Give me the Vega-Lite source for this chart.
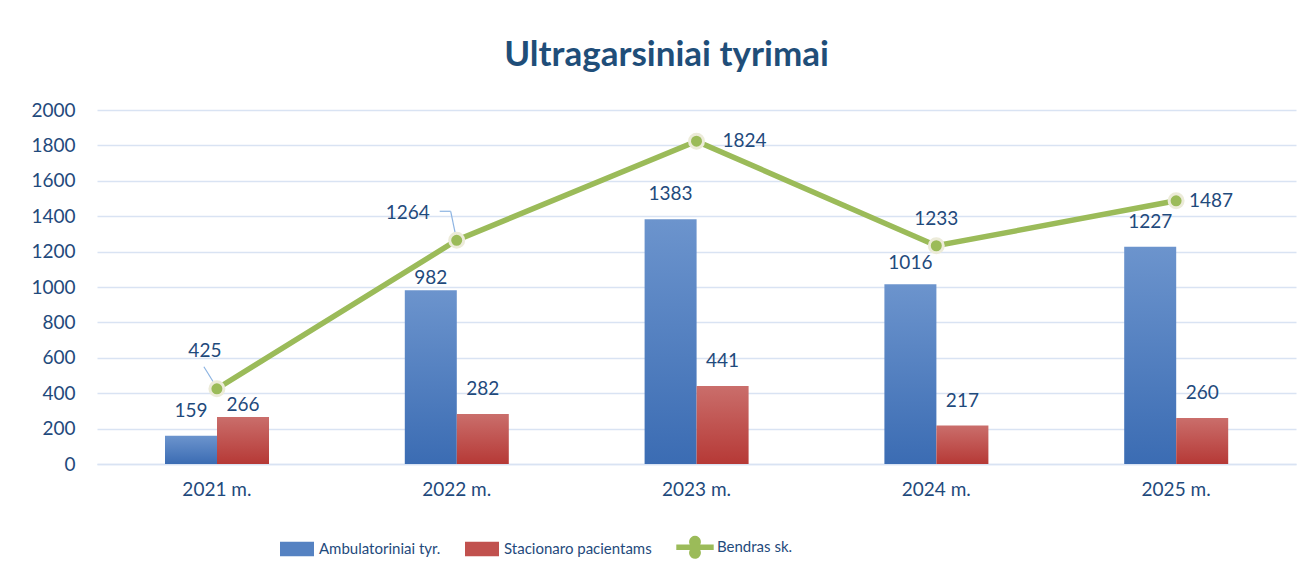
{
  "$schema": "https://vega.github.io/schema/vega-lite/v6.json",
  "width": 1199,
  "height": 354,
  "autosize": {"type": "none"},
  "padding": {"left": 97, "top": 110, "right": 20, "bottom": 115},
  "background": "white",
  "title": {
    "text": "Ultragarsiniai tyrimai",
    "font": "Lato",
    "fontSize": 35,
    "fontWeight": "bold",
    "color": "#1F4E79",
    "anchor": "middle",
    "frame": "group",
    "dx": -30,
    "offset": 28
  },
  "config": {
    "view": {"stroke": null},
    "font": "Lato"
  },
  "data": {
    "values": [
      {"year": "2021 m.", "series": "Ambulatoriniai tyr.", "value": 159},
      {"year": "2021 m.", "series": "Stacionaro pacientams", "value": 266},
      {"year": "2021 m.", "series": "Bendras sk.", "value": 425},
      {"year": "2022 m.", "series": "Ambulatoriniai tyr.", "value": 982},
      {"year": "2022 m.", "series": "Stacionaro pacientams", "value": 282},
      {"year": "2022 m.", "series": "Bendras sk.", "value": 1264},
      {"year": "2023 m.", "series": "Ambulatoriniai tyr.", "value": 1383},
      {"year": "2023 m.", "series": "Stacionaro pacientams", "value": 441},
      {"year": "2023 m.", "series": "Bendras sk.", "value": 1824},
      {"year": "2024 m.", "series": "Ambulatoriniai tyr.", "value": 1016},
      {"year": "2024 m.", "series": "Stacionaro pacientams", "value": 217},
      {"year": "2024 m.", "series": "Bendras sk.", "value": 1233},
      {"year": "2025 m.", "series": "Ambulatoriniai tyr.", "value": 1227},
      {"year": "2025 m.", "series": "Stacionaro pacientams", "value": 260},
      {"year": "2025 m.", "series": "Bendras sk.", "value": 1487}
    ]
  },
  "encoding": {
    "x": {
      "field": "year",
      "type": "nominal",
      "sort": null,
      "scale": {"paddingInner": 0, "paddingOuter": 0},
      "axis": {
        "title": null,
        "labelAngle": 0,
        "ticks": false,
        "domain": true,
        "domainColor": "#D9E3F3",
        "domainWidth": 1.5,
        "labelPadding": 16,
        "labelFont": "Lato",
        "labelFontSize": 19,
        "labelColor": "#1F4A7C",
        "grid": false
      }
    },
    "y": {
      "field": "value",
      "type": "quantitative",
      "scale": {"domain": [0, 2000], "nice": false},
      "axis": {
        "title": null,
        "format": "d",
        "values": [0, 200, 400, 600, 800, 1000, 1200, 1400, 1600, 1800, 2000],
        "grid": true,
        "gridColor": "#D9E3F3",
        "gridWidth": 1.5,
        "domain": false,
        "ticks": false,
        "labelPadding": 22,
        "labelFont": "Lato",
        "labelFontSize": 19,
        "labelColor": "#1F4A7C"
      }
    }
  },
  "layer": [
    {
      "transform": [{"filter": "datum.series !== 'Bendras sk.'"}],
      "mark": {"type": "bar"},
      "encoding": {
        "xOffset": {
          "field": "series",
          "type": "nominal",
          "sort": null,
          "scale": {"domain": ["Ambulatoriniai tyr.", "Stacionaro pacientams"], "paddingInner": 0, "paddingOuter": 0, "range": [68, 172]}
        },
        "color": {
          "condition": {
            "test": "datum.series === 'Ambulatoriniai tyr.'",
            "value": {"gradient": "linear", "x1": 0, "y1": 0, "x2": 0, "y2": 1, "stops": [{"offset": 0, "color": "#6C94CD"}, {"offset": 1, "color": "#3B6CB3"}]}
          },
          "value": {"gradient": "linear", "x1": 0, "y1": 0, "x2": 0, "y2": 1, "stops": [{"offset": 0, "color": "#CA6E6B"}, {"offset": 1, "color": "#B63936"}]}
        }
      }
    },
    {
      "transform": [{"filter": "datum.series !== 'Bendras sk.' && datum.value !== 266 && datum.value !== 982 && datum.value !== 1016"}],
      "mark": {"type": "text", "font": "Lato", "fontSize": 19, "color": "#1F4A7C", "dy": -25, "baseline": "middle"},
      "encoding": {
        "xOffset": {"field": "series", "type": "nominal", "sort": null},
        "text": {"field": "value", "type": "quantitative"}
      }
    },
    {
      "transform": [{"filter": "datum.series !== 'Bendras sk.' && (datum.value === 266 || datum.value === 982)"}],
      "mark": {"type": "text", "font": "Lato", "fontSize": 19, "color": "#1F4A7C", "dy": -12, "baseline": "middle"},
      "encoding": {
        "xOffset": {"field": "series", "type": "nominal", "sort": null},
        "text": {"field": "value", "type": "quantitative"}
      }
    },
    {
      "transform": [{"filter": "datum.series !== 'Bendras sk.' && datum.value === 1016"}],
      "mark": {"type": "text", "font": "Lato", "fontSize": 19, "color": "#1F4A7C", "dy": -21, "baseline": "middle"},
      "encoding": {
        "xOffset": {"field": "series", "type": "nominal", "sort": null},
        "text": {"field": "value", "type": "quantitative"}
      }
    },
    {
      "transform": [{"filter": "datum.series === 'Bendras sk.' && datum.year === '2021 m.'"}],
      "mark": {"type": "rule", "color": "#8DB4E2", "strokeWidth": 1.2, "xOffset": -13, "yOffset": -22, "x2Offset": 0, "y2Offset": -1},
      "encoding": {"x2": {"field": "year"}, "y2": {"field": "value"}}
    },
    {
      "transform": [{"filter": "datum.series === 'Bendras sk.' && datum.year === '2022 m.'"}],
      "mark": {"type": "rule", "color": "#8DB4E2", "strokeWidth": 1.2, "xOffset": -6, "yOffset": -29, "x2Offset": 0, "y2Offset": 0},
      "encoding": {"x2": {"field": "year"}, "y2": {"field": "value"}}
    },
    {
      "transform": [{"filter": "datum.series === 'Bendras sk.' && datum.year === '2022 m.'"}],
      "mark": {"type": "rule", "color": "#8DB4E2", "strokeWidth": 1.2, "xOffset": -17, "yOffset": -29, "x2Offset": -6, "y2Offset": -29},
      "encoding": {"x2": {"field": "year"}, "y2": {"field": "value"}}
    },
    {
      "transform": [{"filter": "datum.series === 'Bendras sk.'"}],
      "mark": {"type": "line", "color": "#9BBB59", "strokeWidth": 5.5},
      "encoding": {}
    },
    {
      "transform": [{"filter": "datum.series === 'Bendras sk.'"}],
      "mark": {"type": "point", "filled": true, "size": 196, "color": "#9BBB59", "stroke": "#ECEBD9", "strokeWidth": 3, "opacity": 1},
      "encoding": {}
    },
    {
      "transform": [{"filter": "datum.year === '2021 m.'"}],
      "mark": {"type": "point", "filled": true, "size": 0, "opacity": 1, "strokeWidth": 0},
      "encoding": {
        "color": {
          "field": "series",
          "type": "nominal",
          "scale": {
            "domain": ["Ambulatoriniai tyr.", "Stacionaro pacientams", "Bendras sk."],
            "range": ["#5582C2", "#C1514E", "#9BBB59"]
          },
          "legend": {
            "title": null,
            "orient": "none",
            "direction": "horizontal",
            "legendX": 183,
            "legendY": 420,
            "padding": 0,
            "symbolSize": 1156,
            "symbolOpacity": 1,
            "symbolStrokeWidth": 0,
            "labelOffset": 5,
            "labelLimit": 400,
            "columnPadding": 24,
            "labelFont": "Lato",
            "labelFontSize": 15,
            "labelColor": "#1F4A7C"
          }
        },
        "shape": {
          "field": "series",
          "type": "nominal",
          "scale": {
            "domain": ["Ambulatoriniai tyr.", "Stacionaro pacientams", "Bendras sk."],
            "range": ["M-1,-0.42H1V0.42H-1Z", "M-1,-0.42H1V0.42H-1Z", "M-1.1,-0.16H-0.31A0.35,0.35 0 1,1 0.31,-0.16H1.1V0.16H0.31A0.35,0.35 0 1,1 -0.31,0.16H-1.1Z"]
          },
          "legend": {
            "title": null,
            "orient": "none",
            "direction": "horizontal",
            "legendX": 183,
            "legendY": 420,
            "padding": 0,
            "symbolSize": 1156,
            "symbolOpacity": 1,
            "symbolStrokeWidth": 0,
            "labelOffset": 5,
            "labelLimit": 400,
            "columnPadding": 24,
            "labelFont": "Lato",
            "labelFontSize": 15,
            "labelColor": "#1F4A7C"
          }
        }
      }
    },
    {
      "transform": [{"filter": "datum.series === 'Bendras sk.' && datum.year === '2021 m.'"}],
      "mark": {"type": "text", "font": "Lato", "fontSize": 19, "color": "#1F4A7C", "dx": -12, "dy": -38, "baseline": "middle"},
      "encoding": {"text": {"field": "value", "type": "quantitative"}}
    },
    {
      "transform": [{"filter": "datum.series === 'Bendras sk.' && datum.year === '2022 m.'"}],
      "mark": {"type": "text", "font": "Lato", "fontSize": 19, "color": "#1F4A7C", "dx": -49, "dy": -27, "baseline": "middle"},
      "encoding": {"text": {"field": "value", "type": "quantitative"}}
    },
    {
      "transform": [{"filter": "datum.series === 'Bendras sk.' && datum.year === '2023 m.'"}],
      "mark": {"type": "text", "font": "Lato", "fontSize": 19, "color": "#1F4A7C", "dx": 48, "dy": 0, "baseline": "middle"},
      "encoding": {"text": {"field": "value", "type": "quantitative"}}
    },
    {
      "transform": [{"filter": "datum.series === 'Bendras sk.' && datum.year === '2024 m.'"}],
      "mark": {"type": "text", "font": "Lato", "fontSize": 19, "color": "#1F4A7C", "dx": 0, "dy": -27, "baseline": "middle"},
      "encoding": {"text": {"field": "value", "type": "quantitative"}}
    },
    {
      "transform": [{"filter": "datum.series === 'Bendras sk.' && datum.year === '2025 m.'"}],
      "mark": {"type": "text", "font": "Lato", "fontSize": 19, "color": "#1F4A7C", "dx": 35, "dy": 0, "baseline": "middle"},
      "encoding": {"text": {"field": "value", "type": "quantitative"}}
    }
  ]
}
